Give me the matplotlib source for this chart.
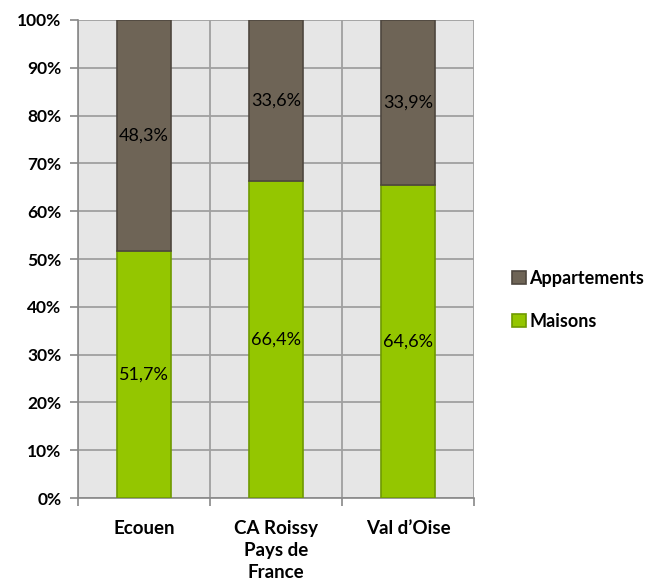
import matplotlib.pyplot as plt
import numpy as np
from matplotlib.ticker import FixedLocator, PercentFormatter


CATEGORIES = ["Ecouen", "CA Roissy\nPays de\nFrance", "Val d\u2019Oise"]
MAISONS = [51.7, 66.4, 64.6]
APPARTEMENTS = [48.3, 33.6, 33.9]
Y_TICKS = list(range(0, 101, 10))

GREEN = "#94C600"
GREEN_EDGE = "#6F9A00"
BROWN = "#6E6456"
BROWN_EDGE = "#4E473F"
FONT = ["Lato", "DejaVu Sans"]


def main():
    plt.rcParams["font.family"] = FONT

    maisons = np.array(MAISONS)
    apparts = np.array(APPARTEMENTS)
    total = maisons + apparts
    # 100% stacked: shares normalised per bar
    m_share = maisons / total * 100
    a_share = apparts / total * 100

    fig = plt.figure(figsize=(6.55, 5.88), dpi=100)
    ax = fig.add_axes([0.119, 0.153, 0.605, 0.813])
    ax.set_facecolor("#E6E6E6")

    x = np.arange(len(CATEGORIES))
    width = 0.41
    b1 = ax.bar(x, m_share, width, color=GREEN, edgecolor=GREEN_EDGE,
                linewidth=1.2, label="Maisons", zorder=3)
    b2 = ax.bar(x, a_share, width, bottom=m_share, color=BROWN,
                edgecolor=BROWN_EDGE, linewidth=1.2, label="Appartements", zorder=3)

    for xi, ms, as_, mv, av in zip(x, m_share, a_share, maisons, apparts):
        ax.text(xi, ms / 2, f"{mv:.1f}%".replace(".", ","), ha="center",
                va="center", fontsize=13, color="black", zorder=4)
        ax.text(xi, ms + as_ / 2, f"{av:.1f}%".replace(".", ","), ha="center",
                va="center", fontsize=13, color="black", zorder=4)

    ax.set_xlim(-0.5, len(CATEGORIES) - 0.5)
    ax.set_ylim(0, 100)
    ax.set_yticks(Y_TICKS)
    ax.yaxis.set_major_formatter(PercentFormatter(decimals=0))
    ax.set_xticks(x)
    ax.set_xticklabels(CATEGORIES, fontsize=13.5, fontweight="bold", linespacing=1.35)
    ax.xaxis.set_minor_locator(FixedLocator(np.arange(-0.5, len(CATEGORIES), 1.0)))

    ax.tick_params(axis="x", which="major", length=0, pad=16)
    ax.tick_params(axis="x", which="minor", length=6, color="#888888", width=1.2)
    ax.tick_params(axis="y", length=6, color="#888888", width=1.2, pad=6,
                   labelsize=12.5)
    for lbl in ax.get_yticklabels():
        lbl.set_fontweight("bold")

    ax.grid(True, axis="y", which="major", color="#A0A0A0", linewidth=1.3, zorder=1)
    ax.grid(True, axis="x", which="minor", color="#A0A0A0", linewidth=1.3, zorder=1)
    for side in ["top", "right"]:
        ax.spines[side].set_visible(False)
    for side in ["left", "bottom"]:
        ax.spines[side].set_color("#888888")
        ax.spines[side].set_linewidth(1.2)

    fig.legend([b2, b1], ["Appartements", "Maisons"], loc="center left",
               bbox_to_anchor=(0.757, 0.49), frameon=False, handlelength=0.75,
               handleheight=0.75, handletextpad=0.2, labelspacing=1.45,
               prop={"family": FONT, "weight": "bold", "size": 13})

    fig.savefig("out.png", dpi=100)


if __name__ == "__main__":
    main()
